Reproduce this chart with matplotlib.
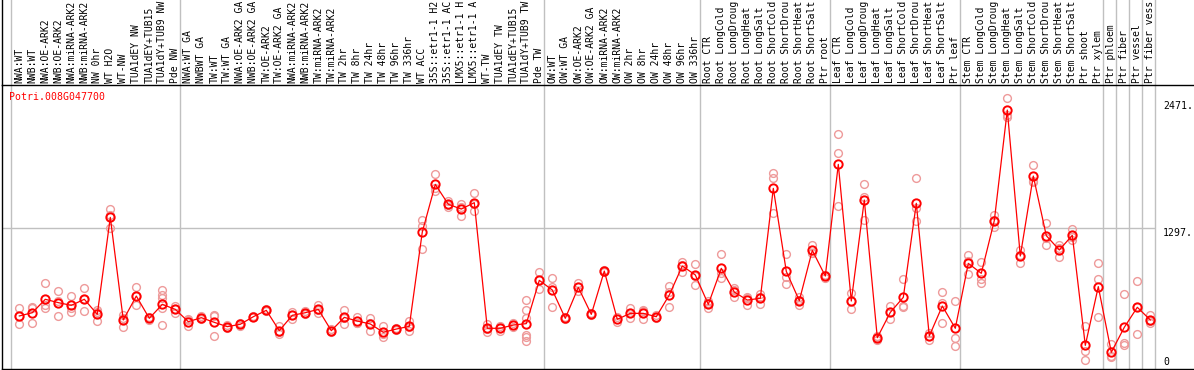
import matplotlib
matplotlib.use('Agg')
import matplotlib.pyplot as plt

gene = 'Potri.008G047700'

# labels as far as they show in the header (cut at the top edge)
samples = [
    'NWA:WT', 'NWB:WT', 'NWA:OE-ARK2', 'NWB:OE-ARK2', 'NWA:miRNA-ARK2', 'NWB:miRNA-ARK2',
    'NW 0hr', 'WT H2O', 'WT-NW', 'TUA1dEY NW', 'TUA1dEY+TUB15', 'TUA1dY+TUB9 NW', 'Pde NW',
    'NWA:WT GA', 'NWBWT GA', 'TW:WT', 'TW:WT GA', 'NWA:OE-ARK2 GA', 'NWB:OE-ARK2 GA',
    'TW:OE-ARK2', 'TW:OE-ARK2 GA', 'NWA:miRNA-ARK2', 'NWB:miRNA-ARK2', 'TW:miRNA-ARK2',
    'TW:miRNA-ARK2', 'TW 2hr', 'TW 8hr', 'TW 24hr', 'TW 48hr', 'TW 96hr', 'TW 336hr',
    'WT ACC', '35S::etr1-1 H2', '35S::etr1-1 AC', 'LMX5::etr1-1 H', 'LMX5::etr1-1 A',
    'WT-TW', 'TUA1dEY TW', 'TUA1dEY+TUB15', 'TUA1dY+TUB9 TW', 'Pde TW',
    'OW:WT', 'OW:WT GA', 'OW:OE-ARK2', 'OW:OE-ARK2 GA', 'OW:miRNA-ARK2', 'OW:miRNA-ARK2',
    'OW 2hr', 'OW 8hr', 'OW 24hr', 'OW 48hr', 'OW 96hr', 'OW 336hr',
    'Root CTR', 'Root LongCold', 'Root LongDroug', 'Root LongHeat', 'Root LongSalt',
    'Root ShortCold', 'Root ShortDrou', 'Root ShortHeat', 'Root ShortSalt', 'Ptr root',
    'Leaf CTR', 'Leaf LongCold', 'Leaf LongDroug', 'Leaf LongHeat', 'Leaf LongSalt',
    'Leaf ShortCold', 'Leaf ShortDrou', 'Leaf ShortHeat', 'Leaf ShortSalt', 'Ptr leaf',
    'Stem CTR', 'Stem LongCold', 'Stem LongDroug', 'Stem LongHeat', 'Stem LongSalt',
    'Stem ShortCold', 'Stem ShortDrou', 'Stem ShortHeat', 'Stem ShortSalt',
    'Ptr shoot', 'Ptr xylem', 'Ptr phloem', 'Ptr fiber', 'Ptr vessel', 'Ptr fiber vess',
]

# number of samples in each block separated by grey lines
group_sizes = [13, 28, 12, 10, 10, 11, 1, 1, 1, 1]

means = [
    481, 511, 635, 604, 579, 635, 496, 1392, 444, 665, 459, 588, 542,
    428, 465, 422, 382, 404, 474, 533, 345, 487, 511, 542, 345, 468, 434, 407, 330, 360,
    385, 1257, 1697, 1513, 1469, 1528, 367, 367, 397, 410, 810,
    721, 459, 745, 496, 896, 450, 505, 505, 474, 675, 943, 860,
    588, 921, 702, 628, 644, 1660, 893, 622, 1087, 850,
    1882, 619, 1553, 280, 514, 653, 1522, 296, 573, 367,
    967, 875, 1362, 2384, 1035, 1774, 1223, 1091, 1226, 209, 752,
    145, 376, 561, 444,
]

replicates = [
    [552, 404, 485], [567, 413, 550], [782, 552, 580], [712, 478, 620], [665, 521, 550],
    [736, 524, 640], [536, 434, 515], [1470, 1297, 1410], [490, 382, 460], [745, 582, 665],
    [475, 445, 459], [721, 675, 645, 552, 394], [573, 512, 542],
    [450, 388, 445], [480, 450, 465], [490, 296, 480], [398, 367, 382], [420, 388, 404],
    [480, 468, 474], [545, 525, 533], [388, 311, 336], [521, 455, 487], [530, 495, 511],
    [582, 505, 540], [357, 336, 342], [536, 404, 465], [475, 412, 420], [459, 345, 415],
    [388, 290, 310], [370, 352, 360], [437, 339, 380], [1368, 1312, 1100], [1790, 1636, 1665],
    [1543, 1491, 1505], [1513, 1405, 1490], [1614, 1451, 1520], [404, 336, 360],
    [390, 345, 367], [413, 382, 397], [628, 536, 459, 305, 283, 253], [890, 727, 812],
    [829, 752, 561], [470, 450], [782, 745, 710], [505, 487], [905, 890], [475, 425],
    [552, 459, 505], [536, 450, 530], [490, 465], [758, 567, 700], [983, 890, 955],
    [961, 767, 850],
    [552, 598, 615], [1054, 829, 880], [736, 653, 720], [653, 582, 650], [684, 588, 660],
    [1799, 1753, 1436], [1054, 844, 773], [660, 582, 625], [1137, 1060, 1065], [860, 835, 855],
    [2163, 1984, 1500], [696, 542, 620], [1698, 1584, 1368], [259, 295, 287], [573, 450, 520],
    [820, 573, 560], [1753, 1476, 1359], [327, 259, 300], [699, 598, 419], [619, 274, 206],
    [1044, 869, 990], [983, 820, 789], [1414, 1306, 1365], [2492, 2323, 2338], [1091, 974, 1040],
    [1873, 1722, 1728], [1337, 1134, 1200], [1137, 1023, 1110], [1282, 1183, 1210],
    [391, 157, 74], [967, 820, 474], [219, 105, 110], [681, 234, 213], [807, 311, 565],
    [490, 413, 430],
]

y_labels = [2471, 1297, 0]
grid_value = 1297

W, H = 1194, 370
fig = plt.figure(figsize=(W / 100, H / 100), dpi=100)
mono = 'DejaVu Sans Mono'
grey = '#c0c0c0'

# pixel layout
left_px, top_px, bottom_px = 2, 85, 369
x0_px, step_px = 19.3, 13.0
xlim = ((left_px - x0_px) / step_px, (W - x0_px) / step_px)
scale = 0.1082  # px per unit
ylim = ((368 - bottom_px) / scale, (368 - top_px) / scale)

ax = fig.add_axes([left_px / W, (H - bottom_px) / H, (W - left_px) / W, (bottom_px - top_px) / H])
hd = fig.add_axes([left_px / W, (H - top_px) / H, (W - left_px) / W, top_px / H])

for a in (ax, hd):
    a.set_xlim(*xlim)
    a.set_xticks([])
    a.set_yticks([])
    a.spines['right'].set_visible(False)
    a.spines['top'].set_visible(False)
    for s in ('left', 'bottom'):
        a.spines[s].set_color('black')
        a.spines[s].set_linewidth(1.0)
ax.set_ylim(*ylim)
hd.set_ylim(0, 1)

# group separators
bounds = [-1 + 0.38]
n = 0
for g in group_sizes:
    n += g
    bounds.append(n - 1 + 0.38)
for b in bounds:
    for a in (ax, hd):
        a.axvline(b, color=grey, lw=1.0, zorder=1)

ax.hlines(grid_value, xlim[0], bounds[-1], color=grey, lw=1.0, zorder=1)

xs = list(range(len(samples)))

# replicates
for i, reps in enumerate(replicates):
    ax.plot([i] * len(reps), reps, 'o', ms=5.6, mfc='none', mec='#ee9a9a', mew=1.0, zorder=2)

ax.plot(xs, means, '-', color='red', lw=0.9, zorder=3)
ax.plot(xs, means, 'o', ms=6.0, mfc='none', mec='red', mew=1.4, zorder=4)

# sample labels
for i, name in enumerate(samples):
    hd.text(i, 2 / top_px, name, rotation=90, ha='center', va='bottom',
            fontsize=7.0, family=mono, color='black')

fig.text(9 / W, 1 - 96.7 / H, gene, color='red', fontsize=7.1, family=mono,
         ha='left', va='center')

lab_x = (1163 - x0_px) / step_px
for v in y_labels:
    if v == 0:
        ax.text(lab_x, 55, '0', fontsize=7.1, family=mono, ha='left', va='center')
    else:
        ax.text(lab_x, v - 52, f'{v}.', fontsize=7.1, family=mono, ha='left', va='center')

fig.savefig('out.png', dpi=100)
